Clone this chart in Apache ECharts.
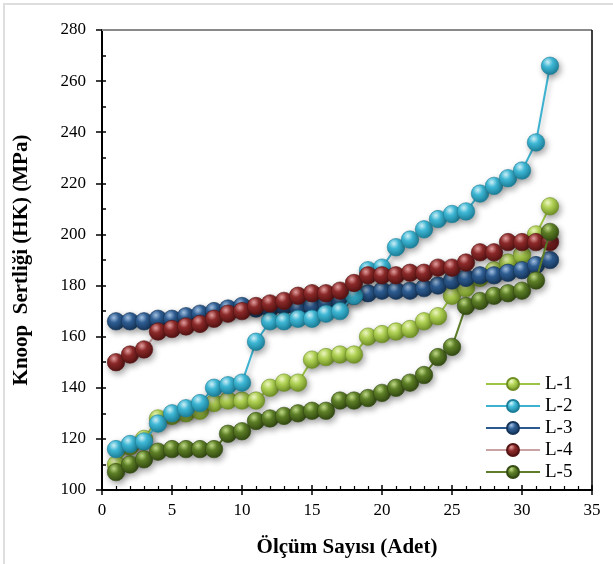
<!DOCTYPE html>
<html><head><meta charset="utf-8">
<script src="https://cdn.jsdelivr.net/npm/echarts@6/dist/echarts.min.js"></script>
<style>html,body{margin:0;padding:0;background:#fff}#c{width:613px;height:564px}</style>
</head><body><div id="c"></div><script>
const counts = [1,2,3,4,5,6,7,8,9,10,11,12,13,14,15,16,17,18,19,20,21,22,23,24,25,26,27,28,29,30,31,32];
const L1 = [110,117,120,128,129,130,131,134,135,135,135,140,142,142,151,152,153,153,160,161,162,163,166,168,176,179,183,186,189,192,200,211];
const L2 = [116,118,119,126,130,132,134,140,141,142,158,166,166,167,167,169,170,176,186,187,195,198,202,206,208,209,216,219,222,225,236,266];
const L3 = [166,166,166,167,167,168,169,170,171,172,171,171,172,171,172,173,174,176,177,178,178,178,179,180,182,183,184,184,185,186,188,190];
const L4 = [150,153,155,162,163,164,165,167,169,170,172,173,174,176,177,177,178,181,184,184,184,185,185,187,187,189,193,193,197,197,197,197];
const L5 = [107,110,112,115,116,116,116,116,122,123,127,128,129,130,131,131,135,135,136,138,140,142,145,152,156,172,174,176,177,178,182,201];
const seriesNames = ['L-1','L-2','L-3','L-4','L-5'];
const xTicks = [0,5,10,15,20,25,30,35];
const yTicks = [100,120,140,160,180,200,220,240,260,280];

const styles = {
  'L-1': {line:'#9cc545', hi:'#f4fcc8', base:'#b3d556', dark:'#6f8f25', z:2},
  'L-2': {line:'#3cb2d0', hi:'#d2f5fd', base:'#3fbad8', dark:'#1c7f99', z:4},
  'L-3': {line:'#2c5a8e', hi:'#a6c4e6', base:'#2f5f95', dark:'#163559', z:3},
  'L-4': {line:'#c9a3a3', hi:'#e8a2a2', base:'#8e2a2a', dark:'#551313', z:5},
  'L-5': {line:'#5d7d28', hi:'#c4de8a', base:'#5f8127', dark:'#334a12', z:6}
};
const dataMap = {'L-1':L1,'L-2':L2,'L-3':L3,'L-4':L4,'L-5':L5};

function sphere(s){
  return {type:'radial', x:0.38, y:0.3, r:0.7, colorStops:[
    {offset:0, color:s.hi},{offset:0.4, color:s.base},{offset:1, color:s.dark}]};
}

const series = seriesNames.map(n => {
  const s = styles[n];
  return {
    name:n, type:'line', xAxisIndex:0, yAxisIndex:0, z:s.z,
    data: counts.map((c,i)=>[c, dataMap[n][i]]),
    symbol:'circle', symbolSize:17.5, showSymbol:true,
    lineStyle:{color:s.line, width:2, shadowColor:'rgba(0,0,0,0.25)', shadowBlur:5, shadowOffsetX:2, shadowOffsetY:3},
    itemStyle:{color:sphere(s), borderColor:s.dark, borderWidth:0.6,
      shadowColor:'rgba(0,0,0,0.35)', shadowBlur:6, shadowOffsetX:2, shadowOffsetY:3},
    emphasis:{disabled:true}, animation:false
  };
});

const font = 'Liberation Serif';
const chart = echarts.init(document.getElementById('c'), null, {renderer:'canvas'});
chart.setOption({
  animation:false,
  backgroundColor:'#fff',
  grid:{left:102, right:21, top:30, bottom:74},
  legend:{
    data:seriesNames, orient:'vertical', left:480, top:369,
    itemWidth:54, itemHeight:15, itemGap:2,
    textStyle:{fontFamily:font, fontSize:19, color:'#000', lineHeight:20}
  },
  xAxis:[
    {type:'value', min:0, max:35, interval:5, position:'bottom',
     name:'Ölçüm Sayısı (Adet)', nameLocation:'middle', nameGap:47,
     nameTextStyle:{fontFamily:font, fontSize:21, fontWeight:'bold', color:'#000'},
     axisLine:{lineStyle:{color:'#000', width:2}},
     axisTick:{show:true, inside:false, length:5, lineStyle:{color:'#000', width:1.5}},
     axisLabel:{fontFamily:font, fontSize:17, color:'#000', margin:12, formatter:v=>xTicks.includes(v)?String(v):''},
     splitLine:{show:false}},
    {type:'value', min:0, max:35, interval:5, position:'bottom',
     axisLine:{show:false}, axisLabel:{show:false}, splitLine:{show:false},
     axisTick:{show:true, inside:true, length:5, lineStyle:{color:'#000', width:1.5}},
     minorTick:{show:true, splitNumber:5, length:4, lineStyle:{color:'#000', width:1.2}}}
  ],
  yAxis:[
    {type:'value', min:100, max:280, interval:20, position:'left',
     name:'Knoop  Sertliği (HK) (MPa)', nameLocation:'middle', nameGap:70,
     nameTextStyle:{fontFamily:font, fontSize:21, fontWeight:'bold', color:'#000'},
     axisLine:{show:true, lineStyle:{color:'#000', width:2}},
     axisTick:{show:true, inside:false, length:6, lineStyle:{color:'#000', width:1.5}},
     axisLabel:{fontFamily:font, fontSize:17, color:'#000', margin:16, formatter:v=>yTicks.includes(v)?String(v):''},
     splitLine:{show:false}},
    {type:'value', min:100, max:280, interval:20, position:'left',
     axisLine:{show:false}, axisLabel:{show:false}, splitLine:{show:false},
     axisTick:{show:true, inside:true, length:4, lineStyle:{color:'#000', width:1.5}},
     minorTick:{show:true, splitNumber:2, length:4, lineStyle:{color:'#000', width:1.5}}}
  ],
  series: series
});
// frame lines from the grid's own scale
const tl = chart.convertToPixel({gridIndex:0}, [0, 280]);
const br = chart.convertToPixel({gridIndex:0}, [35, 100]);
chart.setOption({
  graphic:[
    {type:'rect', shape:{x:4, y:4, width:640, height:600}, style:{fill:'none', stroke:'#dedede', lineWidth:2}, z:-1, silent:true},
    {type:'line', shape:{x1:tl[0], y1:tl[1], x2:br[0], y2:tl[1]}, style:{stroke:'#8a8a8a', lineWidth:2}, z:1, silent:true},
    {type:'line', shape:{x1:br[0], y1:tl[1], x2:br[0], y2:br[1]}, style:{stroke:'#000', lineWidth:1.5}, z:1, silent:true}
  ]
});
</script></body></html>
